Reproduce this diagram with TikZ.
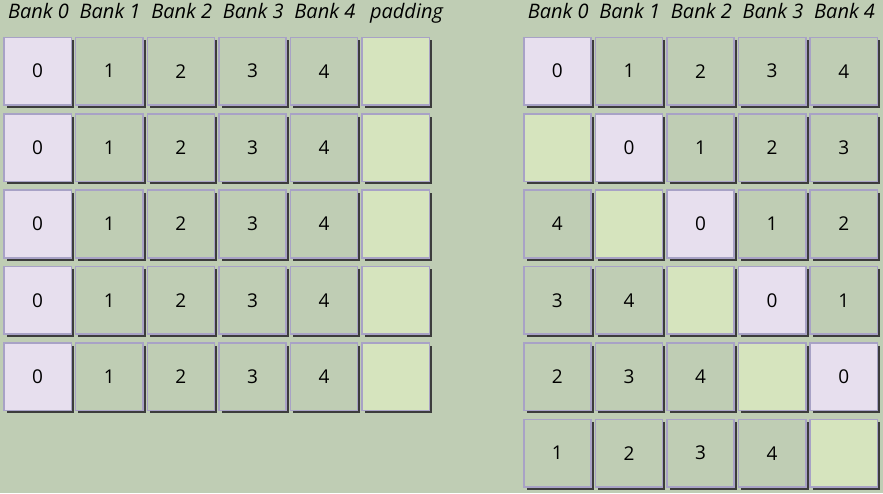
\documentclass[tikz,border=0pt]{standalone}
\usepackage{fontspec}
\setmainfont{Open Sans}
\usetikzlibrary{shadows}
\definecolor{bgcol}{RGB}{191,205,180}
\definecolor{homecol}{RGB}{231,223,238}
\definecolor{padcol}{RGB}{214,228,190}
\definecolor{cellline}{RGB}{168,162,198}
\definecolor{shadowcol}{RGB}{60,60,60}
\tikzset{
  cellbox/.style={draw=cellline, line width=1.5pt, fill=bgcol, minimum width=67.2pt, minimum height=67.6pt, inner sep=0pt,
    font=\fontsize{19}{19}\selectfont,
    drop shadow={shadow xshift=2.8pt, shadow yshift=-2.8pt, fill=shadowcol, opacity=1}},
  cell0/.style={cellbox, fill=homecol},
  cell1/.style={cellbox}, cell2/.style={cellbox}, cell3/.style={cellbox}, cell4/.style={cellbox},
  cell5/.style={cellbox, fill=padcol},
  bankhead/.style={font=\fontsize{20}{20}\selectfont\itshape, anchor=base, inner sep=0pt}
}
\begin{document}
\begin{tikzpicture}[x=1pt,y=-1pt]
\fill[bgcol] (0,0) rectangle (883,493);
\useasboundingbox (0,0) rectangle (883,493);
\foreach \c in {0,...,4}{
  \node[bankhead] (LH\c) at (38.5+71.6*\c,18.5) {Bank \c};
  \node[bankhead] (RH\c) at (558.2+71.6*\c,18.5) {Bank \c};
}
\node[bankhead] (LH5) at (406.5,18.5) {padding};
\foreach \r in {0,...,4}
  \foreach \c in {0,...,5}
    \node[cell\c] (L\r\c) at (37.65+71.6*\c,71.2+76.4*\r) {\ifnum\c<5 \c\fi};
\foreach \r in {0,...,5}
  \foreach \c in {0,...,4}{
    \pgfmathtruncatemacro\v{mod(\c-\r+6,6)}
    \node[cell\v] (R\r\c) at (557.35+71.6*\c,71.2+76.4*\r) {\ifnum\v<5 \v\fi};
  }
\end{tikzpicture}
\end{document}
